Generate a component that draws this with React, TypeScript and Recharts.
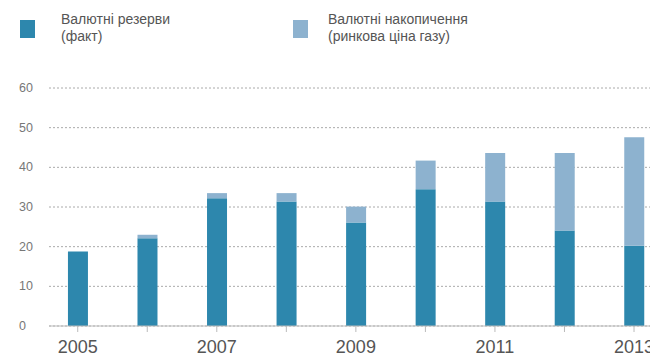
import React from 'react';
import { BarChart, Bar, XAxis, YAxis, CartesianGrid } from 'recharts';

const years = [2005, 2006, 2007, 2008, 2009, 2010, 2011, 2012, 2013];
const reserves = [18.8, 22.1, 32.2, 31.4, 26.1, 34.5, 31.4, 24.1, 20.2];
const accumulation = [0, 0.9, 1.3, 2.1, 4.0, 7.2, 12.2, 19.5, 27.4];
const yTicks = [0, 10, 20, 30, 40, 50, 60];
const labeledYears = [2005, 2007, 2009, 2011, 2013];
const legendLabels = [
  ['Валютні резерви', '(факт)'],
  ['Валютні накопичення', '(ринкова ціна газу)'],
];

const DARK = '#2d87ad';
const LIGHT = '#8db2cf';
const FONT = '"Liberation Sans", Arial, sans-serif';

const data = years.map((y, i) => ({ year: y, reserves: reserves[i], accumulation: accumulation[i] }));

const YTick = (props: any) => {
  const { y, payload } = props;
  return (
    <text x={19} y={y} textAnchor="start" dominantBaseline="central" fontSize={12.5} fill="#777" fontFamily={FONT}>
      {payload.value}
    </text>
  );
};

export default function App() {
  return (
    <div style={{ position: 'absolute', left: 0, top: 0, width: 650, height: 356, overflow: 'hidden', background: '#fff' }}>
      {legendLabels.map((lines, i) => (
        <div key={i} style={{ position: 'absolute', left: i === 0 ? 20 : 293, top: 11, fontFamily: FONT, fontSize: 14, color: '#555', lineHeight: '17px' }}>
          <div style={{ position: 'absolute', left: 0, top: 9, width: 15, height: 18, background: i === 0 ? DARK : LIGHT }} />
          <div style={{ marginLeft: i === 0 ? 41 : 35, whiteSpace: 'nowrap' }}>
            <div>{lines[0]}</div>
            <div>{lines[1]}</div>
          </div>
        </div>
      ))}
      <div style={{ position: 'absolute', left: 0, top: 0 }}>
        <BarChart width={690} height={356} data={data} margin={{ top: 88, right: 0, bottom: 0, left: 0 }} barSize={20}>
          <CartesianGrid vertical={false} stroke="#aaa" strokeDasharray="2 2" />
          <XAxis
            dataKey="year"
            type="number"
            domain={[2004.587, 2013.805]}
            allowDataOverflow
            ticks={years}
            tickFormatter={(v: number) => (labeledYears.includes(v) ? String(v) : '')}
            height={30}
            stroke="#bbb"
            tickSize={6}
            tickMargin={8}
            tick={{ fontSize: 18, fill: '#555', fontFamily: FONT }}
            interval={0}
          />
          <YAxis
            width={49}
            domain={[0, 60]}
            ticks={yTicks}
            axisLine={false}
            tickLine={false}
            tick={<YTick />}
          />
          <Bar dataKey="reserves" stackId="a" fill={DARK} isAnimationActive={false} />
          <Bar dataKey="accumulation" stackId="a" fill={LIGHT} isAnimationActive={false} />
        </BarChart>
      </div>
    </div>
  );
}
